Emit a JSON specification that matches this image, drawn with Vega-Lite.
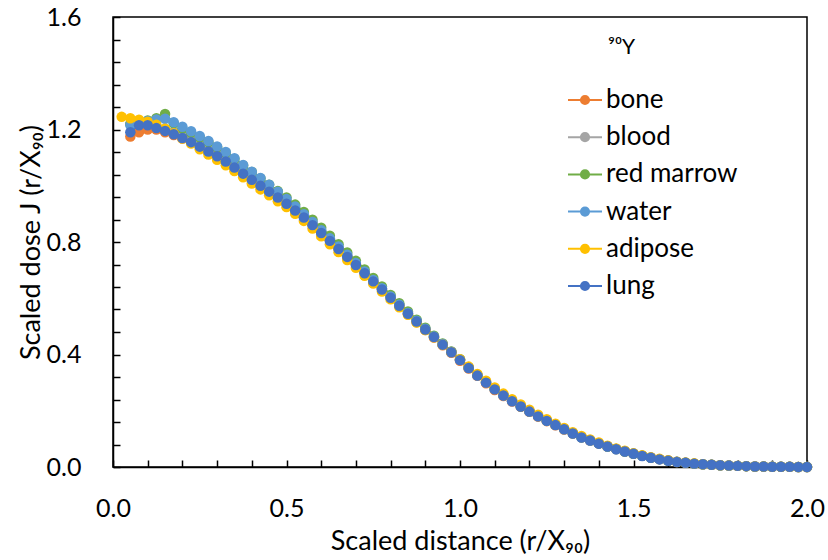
{
  "$schema": "https://vega.github.io/schema/vega-lite/v6.json",
  "width": 694,
  "height": 450,
  "autosize": {"type": "none"},
  "padding": {"left": 113, "top": 17, "right": 21, "bottom": 93},
  "background": "white",
  "config": {
    "font": "Lato",
    "view": {"stroke": "black", "strokeWidth": 1.5},
    "axis": {
      "grid": false,
      "domainColor": "black",
      "domainWidth": 1.5,
      "tickColor": "black",
      "tickWidth": 1.5,
      "tickSize": -7,
      "labelColor": "black",
      "titleColor": "black",
      "labelFontSize": 25,
      "titleFontSize": 27,
      "titleFontWeight": "normal",
      "labelFont": "Lato",
      "titleFont": "Lato"
    },
    "legend": {"labelFont": "Lato", "titleFont": "Lato"}
  },
  "data": {"values": [
    {"s":"bone","x":0.05,"y":1.175},{"s":"bone","x":0.075,"y":1.19},{"s":"bone","x":0.1,"y":1.2},{"s":"bone","x":0.125,"y":1.2},{"s":"bone","x":0.15,"y":1.19},{"s":"bone","x":0.175,"y":1.18},{"s":"bone","x":0.2,"y":1.168},{"s":"bone","x":0.225,"y":1.157},{"s":"bone","x":0.25,"y":1.141},{"s":"bone","x":0.275,"y":1.12},{"s":"bone","x":0.3,"y":1.107},{"s":"bone","x":0.325,"y":1.088},{"s":"bone","x":0.35,"y":1.063},{"s":"bone","x":0.375,"y":1.045},{"s":"bone","x":0.4,"y":1.02},{"s":"bone","x":0.425,"y":1.003},{"s":"bone","x":0.45,"y":0.98},{"s":"bone","x":0.475,"y":0.96},{"s":"bone","x":0.5,"y":0.936},{"s":"bone","x":0.525,"y":0.915},{"s":"bone","x":0.55,"y":0.89},{"s":"bone","x":0.575,"y":0.862},{"s":"bone","x":0.6,"y":0.83},{"s":"bone","x":0.625,"y":0.806},{"s":"bone","x":0.65,"y":0.777},{"s":"bone","x":0.675,"y":0.745},{"s":"bone","x":0.7,"y":0.72},{"s":"bone","x":0.725,"y":0.69},{"s":"bone","x":0.75,"y":0.658},{"s":"bone","x":0.775,"y":0.633},{"s":"bone","x":0.8,"y":0.604},{"s":"bone","x":0.825,"y":0.575},{"s":"bone","x":0.85,"y":0.543},{"s":"bone","x":0.875,"y":0.515},{"s":"bone","x":0.9,"y":0.487},{"s":"bone","x":0.925,"y":0.46},{"s":"bone","x":0.95,"y":0.433},{"s":"bone","x":0.975,"y":0.406},{"s":"bone","x":1.0,"y":0.378},{"s":"bone","x":1.025,"y":0.35},{"s":"bone","x":1.05,"y":0.324},{"s":"bone","x":1.075,"y":0.298},{"s":"bone","x":1.1,"y":0.274},{"s":"bone","x":1.125,"y":0.252},{"s":"bone","x":1.15,"y":0.233},{"s":"bone","x":1.175,"y":0.214},{"s":"bone","x":1.2,"y":0.196},{"s":"bone","x":1.225,"y":0.179},{"s":"bone","x":1.25,"y":0.163},{"s":"bone","x":1.275,"y":0.148},{"s":"bone","x":1.3,"y":0.133},{"s":"bone","x":1.325,"y":0.119},{"s":"bone","x":1.35,"y":0.106},{"s":"bone","x":1.375,"y":0.094},{"s":"bone","x":1.4,"y":0.083},{"s":"bone","x":1.425,"y":0.073},{"s":"bone","x":1.45,"y":0.064},{"s":"bone","x":1.475,"y":0.055},{"s":"bone","x":1.5,"y":0.047},{"s":"bone","x":1.525,"y":0.04},{"s":"bone","x":1.55,"y":0.033},{"s":"bone","x":1.575,"y":0.028},{"s":"bone","x":1.6,"y":0.023},{"s":"bone","x":1.625,"y":0.018},{"s":"bone","x":1.65,"y":0.015},{"s":"bone","x":1.675,"y":0.012},{"s":"bone","x":1.7,"y":0.01},{"s":"bone","x":1.725,"y":0.008},{"s":"bone","x":1.75,"y":0.006},{"s":"bone","x":1.775,"y":0.005},{"s":"bone","x":1.8,"y":0.004},{"s":"bone","x":1.825,"y":0.003},{"s":"bone","x":1.85,"y":0.002},{"s":"bone","x":1.875,"y":0.002},{"s":"bone","x":1.9,"y":0.001},{"s":"bone","x":1.925,"y":0.001},{"s":"bone","x":1.95,"y":0.001},{"s":"bone","x":1.975,"y":0},{"s":"bone","x":2.0,"y":0},
    {"s":"blood","x":0.05,"y":1.22},{"s":"blood","x":0.075,"y":1.222},{"s":"blood","x":0.1,"y":1.22},{"s":"blood","x":0.125,"y":1.212},{"s":"blood","x":0.15,"y":1.203},{"s":"blood","x":0.175,"y":1.192},{"s":"blood","x":0.2,"y":1.18},{"s":"blood","x":0.225,"y":1.165},{"s":"blood","x":0.25,"y":1.149},{"s":"blood","x":0.275,"y":1.132},{"s":"blood","x":0.3,"y":1.114},{"s":"blood","x":0.325,"y":1.095},{"s":"blood","x":0.35,"y":1.073},{"s":"blood","x":0.375,"y":1.051},{"s":"blood","x":0.4,"y":1.029},{"s":"blood","x":0.425,"y":1.008},{"s":"blood","x":0.45,"y":0.986},{"s":"blood","x":0.475,"y":0.965},{"s":"blood","x":0.5,"y":0.943},{"s":"blood","x":0.525,"y":0.919},{"s":"blood","x":0.55,"y":0.893},{"s":"blood","x":0.575,"y":0.866},{"s":"blood","x":0.6,"y":0.838},{"s":"blood","x":0.625,"y":0.81},{"s":"blood","x":0.65,"y":0.78},{"s":"blood","x":0.675,"y":0.752},{"s":"blood","x":0.7,"y":0.722},{"s":"blood","x":0.725,"y":0.693},{"s":"blood","x":0.75,"y":0.664},{"s":"blood","x":0.775,"y":0.634},{"s":"blood","x":0.8,"y":0.605},{"s":"blood","x":0.825,"y":0.576},{"s":"blood","x":0.85,"y":0.547},{"s":"blood","x":0.875,"y":0.519},{"s":"blood","x":0.9,"y":0.491},{"s":"blood","x":0.925,"y":0.463},{"s":"blood","x":0.95,"y":0.436},{"s":"blood","x":0.975,"y":0.409},{"s":"blood","x":1.0,"y":0.381},{"s":"blood","x":1.025,"y":0.353},{"s":"blood","x":1.05,"y":0.326},{"s":"blood","x":1.075,"y":0.301},{"s":"blood","x":1.1,"y":0.277},{"s":"blood","x":1.125,"y":0.255},{"s":"blood","x":1.15,"y":0.235},{"s":"blood","x":1.175,"y":0.216},{"s":"blood","x":1.2,"y":0.198},{"s":"blood","x":1.225,"y":0.181},{"s":"blood","x":1.25,"y":0.165},{"s":"blood","x":1.275,"y":0.15},{"s":"blood","x":1.3,"y":0.135},{"s":"blood","x":1.325,"y":0.12},{"s":"blood","x":1.35,"y":0.106},{"s":"blood","x":1.375,"y":0.095},{"s":"blood","x":1.4,"y":0.084},{"s":"blood","x":1.425,"y":0.074},{"s":"blood","x":1.45,"y":0.064},{"s":"blood","x":1.475,"y":0.056},{"s":"blood","x":1.5,"y":0.048},{"s":"blood","x":1.525,"y":0.04},{"s":"blood","x":1.55,"y":0.034},{"s":"blood","x":1.575,"y":0.028},{"s":"blood","x":1.6,"y":0.023},{"s":"blood","x":1.625,"y":0.019},{"s":"blood","x":1.65,"y":0.015},{"s":"blood","x":1.675,"y":0.012},{"s":"blood","x":1.7,"y":0.01},{"s":"blood","x":1.725,"y":0.008},{"s":"blood","x":1.75,"y":0.006},{"s":"blood","x":1.775,"y":0.005},{"s":"blood","x":1.8,"y":0.004},{"s":"blood","x":1.825,"y":0.003},{"s":"blood","x":1.85,"y":0.002},{"s":"blood","x":1.875,"y":0.002},{"s":"blood","x":1.9,"y":0.001},{"s":"blood","x":1.925,"y":0.001},{"s":"blood","x":1.95,"y":0.001},{"s":"blood","x":1.975,"y":0},{"s":"blood","x":2.0,"y":0},
    {"s":"red marrow","x":0.05,"y":1.22},{"s":"red marrow","x":0.075,"y":1.225},{"s":"red marrow","x":0.1,"y":1.232},{"s":"red marrow","x":0.125,"y":1.24},{"s":"red marrow","x":0.15,"y":1.255},{"s":"red marrow","x":0.175,"y":1.222},{"s":"red marrow","x":0.2,"y":1.203},{"s":"red marrow","x":0.225,"y":1.188},{"s":"red marrow","x":0.25,"y":1.172},{"s":"red marrow","x":0.275,"y":1.155},{"s":"red marrow","x":0.3,"y":1.137},{"s":"red marrow","x":0.325,"y":1.117},{"s":"red marrow","x":0.35,"y":1.095},{"s":"red marrow","x":0.375,"y":1.072},{"s":"red marrow","x":0.4,"y":1.049},{"s":"red marrow","x":0.425,"y":1.026},{"s":"red marrow","x":0.45,"y":1.004},{"s":"red marrow","x":0.475,"y":0.981},{"s":"red marrow","x":0.5,"y":0.958},{"s":"red marrow","x":0.525,"y":0.933},{"s":"red marrow","x":0.55,"y":0.907},{"s":"red marrow","x":0.575,"y":0.879},{"s":"red marrow","x":0.6,"y":0.851},{"s":"red marrow","x":0.625,"y":0.822},{"s":"red marrow","x":0.65,"y":0.792},{"s":"red marrow","x":0.675,"y":0.763},{"s":"red marrow","x":0.7,"y":0.733},{"s":"red marrow","x":0.725,"y":0.702},{"s":"red marrow","x":0.75,"y":0.672},{"s":"red marrow","x":0.775,"y":0.642},{"s":"red marrow","x":0.8,"y":0.612},{"s":"red marrow","x":0.825,"y":0.582},{"s":"red marrow","x":0.85,"y":0.553},{"s":"red marrow","x":0.875,"y":0.524},{"s":"red marrow","x":0.9,"y":0.495},{"s":"red marrow","x":0.925,"y":0.467},{"s":"red marrow","x":0.95,"y":0.439},{"s":"red marrow","x":0.975,"y":0.411},{"s":"red marrow","x":1.0,"y":0.383},{"s":"red marrow","x":1.025,"y":0.354},{"s":"red marrow","x":1.05,"y":0.327},{"s":"red marrow","x":1.075,"y":0.302},{"s":"red marrow","x":1.1,"y":0.278},{"s":"red marrow","x":1.125,"y":0.256},{"s":"red marrow","x":1.15,"y":0.236},{"s":"red marrow","x":1.175,"y":0.216},{"s":"red marrow","x":1.2,"y":0.198},{"s":"red marrow","x":1.225,"y":0.181},{"s":"red marrow","x":1.25,"y":0.165},{"s":"red marrow","x":1.275,"y":0.15},{"s":"red marrow","x":1.3,"y":0.135},{"s":"red marrow","x":1.325,"y":0.12},{"s":"red marrow","x":1.35,"y":0.106},{"s":"red marrow","x":1.375,"y":0.095},{"s":"red marrow","x":1.4,"y":0.084},{"s":"red marrow","x":1.425,"y":0.073},{"s":"red marrow","x":1.45,"y":0.064},{"s":"red marrow","x":1.475,"y":0.055},{"s":"red marrow","x":1.5,"y":0.047},{"s":"red marrow","x":1.525,"y":0.04},{"s":"red marrow","x":1.55,"y":0.033},{"s":"red marrow","x":1.575,"y":0.028},{"s":"red marrow","x":1.6,"y":0.022},{"s":"red marrow","x":1.625,"y":0.018},{"s":"red marrow","x":1.65,"y":0.015},{"s":"red marrow","x":1.675,"y":0.012},{"s":"red marrow","x":1.7,"y":0.01},{"s":"red marrow","x":1.725,"y":0.008},{"s":"red marrow","x":1.75,"y":0.006},{"s":"red marrow","x":1.775,"y":0.005},{"s":"red marrow","x":1.8,"y":0.004},{"s":"red marrow","x":1.825,"y":0.003},{"s":"red marrow","x":1.85,"y":0.002},{"s":"red marrow","x":1.875,"y":0.002},{"s":"red marrow","x":1.9,"y":0.001},{"s":"red marrow","x":1.925,"y":0.001},{"s":"red marrow","x":1.95,"y":0.001},{"s":"red marrow","x":1.975,"y":0},{"s":"red marrow","x":2.0,"y":0},
    {"s":"water","x":0.05,"y":1.215},{"s":"water","x":0.075,"y":1.225},{"s":"water","x":0.1,"y":1.23},{"s":"water","x":0.125,"y":1.236},{"s":"water","x":0.15,"y":1.238},{"s":"water","x":0.175,"y":1.226},{"s":"water","x":0.2,"y":1.21},{"s":"water","x":0.225,"y":1.194},{"s":"water","x":0.25,"y":1.177},{"s":"water","x":0.275,"y":1.159},{"s":"water","x":0.3,"y":1.14},{"s":"water","x":0.325,"y":1.12},{"s":"water","x":0.35,"y":1.098},{"s":"water","x":0.375,"y":1.074},{"s":"water","x":0.4,"y":1.05},{"s":"water","x":0.425,"y":1.028},{"s":"water","x":0.45,"y":1.004},{"s":"water","x":0.475,"y":0.979},{"s":"water","x":0.5,"y":0.953},{"s":"water","x":0.525,"y":0.926},{"s":"water","x":0.55,"y":0.899},{"s":"water","x":0.575,"y":0.871},{"s":"water","x":0.6,"y":0.842},{"s":"water","x":0.625,"y":0.813},{"s":"water","x":0.65,"y":0.784},{"s":"water","x":0.675,"y":0.755},{"s":"water","x":0.7,"y":0.725},{"s":"water","x":0.725,"y":0.695},{"s":"water","x":0.75,"y":0.665},{"s":"water","x":0.775,"y":0.636},{"s":"water","x":0.8,"y":0.606},{"s":"water","x":0.825,"y":0.577},{"s":"water","x":0.85,"y":0.548},{"s":"water","x":0.875,"y":0.52},{"s":"water","x":0.9,"y":0.492},{"s":"water","x":0.925,"y":0.464},{"s":"water","x":0.95,"y":0.437},{"s":"water","x":0.975,"y":0.41},{"s":"water","x":1.0,"y":0.382},{"s":"water","x":1.025,"y":0.354},{"s":"water","x":1.05,"y":0.327},{"s":"water","x":1.075,"y":0.302},{"s":"water","x":1.1,"y":0.278},{"s":"water","x":1.125,"y":0.256},{"s":"water","x":1.15,"y":0.236},{"s":"water","x":1.175,"y":0.217},{"s":"water","x":1.2,"y":0.199},{"s":"water","x":1.225,"y":0.182},{"s":"water","x":1.25,"y":0.166},{"s":"water","x":1.275,"y":0.151},{"s":"water","x":1.3,"y":0.136},{"s":"water","x":1.325,"y":0.121},{"s":"water","x":1.35,"y":0.107},{"s":"water","x":1.375,"y":0.095},{"s":"water","x":1.4,"y":0.084},{"s":"water","x":1.425,"y":0.074},{"s":"water","x":1.45,"y":0.064},{"s":"water","x":1.475,"y":0.056},{"s":"water","x":1.5,"y":0.048},{"s":"water","x":1.525,"y":0.04},{"s":"water","x":1.55,"y":0.034},{"s":"water","x":1.575,"y":0.028},{"s":"water","x":1.6,"y":0.023},{"s":"water","x":1.625,"y":0.019},{"s":"water","x":1.65,"y":0.015},{"s":"water","x":1.675,"y":0.012},{"s":"water","x":1.7,"y":0.01},{"s":"water","x":1.725,"y":0.008},{"s":"water","x":1.75,"y":0.006},{"s":"water","x":1.775,"y":0.005},{"s":"water","x":1.8,"y":0.004},{"s":"water","x":1.825,"y":0.003},{"s":"water","x":1.85,"y":0.002},{"s":"water","x":1.875,"y":0.002},{"s":"water","x":1.9,"y":0.001},{"s":"water","x":1.925,"y":0.001},{"s":"water","x":1.95,"y":0.001},{"s":"water","x":1.975,"y":0},{"s":"water","x":2.0,"y":0},
    {"s":"adipose","x":0.025,"y":1.245},{"s":"adipose","x":0.05,"y":1.24},{"s":"adipose","x":0.075,"y":1.235},{"s":"adipose","x":0.1,"y":1.228},{"s":"adipose","x":0.125,"y":1.217},{"s":"adipose","x":0.15,"y":1.203},{"s":"adipose","x":0.175,"y":1.187},{"s":"adipose","x":0.2,"y":1.168},{"s":"adipose","x":0.225,"y":1.15},{"s":"adipose","x":0.25,"y":1.13},{"s":"adipose","x":0.275,"y":1.111},{"s":"adipose","x":0.3,"y":1.092},{"s":"adipose","x":0.325,"y":1.073},{"s":"adipose","x":0.35,"y":1.052},{"s":"adipose","x":0.375,"y":1.03},{"s":"adipose","x":0.4,"y":1.008},{"s":"adipose","x":0.425,"y":0.987},{"s":"adipose","x":0.45,"y":0.966},{"s":"adipose","x":0.475,"y":0.945},{"s":"adipose","x":0.5,"y":0.924},{"s":"adipose","x":0.525,"y":0.9},{"s":"adipose","x":0.55,"y":0.875},{"s":"adipose","x":0.575,"y":0.848},{"s":"adipose","x":0.6,"y":0.82},{"s":"adipose","x":0.625,"y":0.792},{"s":"adipose","x":0.65,"y":0.764},{"s":"adipose","x":0.675,"y":0.736},{"s":"adipose","x":0.7,"y":0.708},{"s":"adipose","x":0.725,"y":0.68},{"s":"adipose","x":0.75,"y":0.652},{"s":"adipose","x":0.775,"y":0.624},{"s":"adipose","x":0.8,"y":0.596},{"s":"adipose","x":0.825,"y":0.568},{"s":"adipose","x":0.85,"y":0.541},{"s":"adipose","x":0.875,"y":0.514},{"s":"adipose","x":0.9,"y":0.487},{"s":"adipose","x":0.925,"y":0.461},{"s":"adipose","x":0.95,"y":0.435},{"s":"adipose","x":0.975,"y":0.409},{"s":"adipose","x":1.0,"y":0.383},{"s":"adipose","x":1.025,"y":0.357},{"s":"adipose","x":1.05,"y":0.331},{"s":"adipose","x":1.075,"y":0.307},{"s":"adipose","x":1.1,"y":0.283},{"s":"adipose","x":1.125,"y":0.261},{"s":"adipose","x":1.15,"y":0.241},{"s":"adipose","x":1.175,"y":0.222},{"s":"adipose","x":1.2,"y":0.204},{"s":"adipose","x":1.225,"y":0.186},{"s":"adipose","x":1.25,"y":0.17},{"s":"adipose","x":1.275,"y":0.154},{"s":"adipose","x":1.3,"y":0.139},{"s":"adipose","x":1.325,"y":0.124},{"s":"adipose","x":1.35,"y":0.11},{"s":"adipose","x":1.375,"y":0.098},{"s":"adipose","x":1.4,"y":0.087},{"s":"adipose","x":1.425,"y":0.076},{"s":"adipose","x":1.45,"y":0.066},{"s":"adipose","x":1.475,"y":0.058},{"s":"adipose","x":1.5,"y":0.049},{"s":"adipose","x":1.525,"y":0.042},{"s":"adipose","x":1.55,"y":0.035},{"s":"adipose","x":1.575,"y":0.029},{"s":"adipose","x":1.6,"y":0.024},{"s":"adipose","x":1.625,"y":0.019},{"s":"adipose","x":1.65,"y":0.016},{"s":"adipose","x":1.675,"y":0.013},{"s":"adipose","x":1.7,"y":0.01},{"s":"adipose","x":1.725,"y":0.008},{"s":"adipose","x":1.75,"y":0.006},{"s":"adipose","x":1.775,"y":0.005},{"s":"adipose","x":1.8,"y":0.004},{"s":"adipose","x":1.825,"y":0.003},{"s":"adipose","x":1.85,"y":0.002},{"s":"adipose","x":1.875,"y":0.002},{"s":"adipose","x":1.9,"y":0.001},{"s":"adipose","x":1.925,"y":0.001},{"s":"adipose","x":1.95,"y":0.001},{"s":"adipose","x":1.975,"y":0},{"s":"adipose","x":2.0,"y":0},
    {"s":"lung","x":0.05,"y":1.19},{"s":"lung","x":0.075,"y":1.215},{"s":"lung","x":0.1,"y":1.215},{"s":"lung","x":0.125,"y":1.205},{"s":"lung","x":0.15,"y":1.195},{"s":"lung","x":0.175,"y":1.183},{"s":"lung","x":0.2,"y":1.17},{"s":"lung","x":0.225,"y":1.155},{"s":"lung","x":0.25,"y":1.139},{"s":"lung","x":0.275,"y":1.122},{"s":"lung","x":0.3,"y":1.105},{"s":"lung","x":0.325,"y":1.086},{"s":"lung","x":0.35,"y":1.065},{"s":"lung","x":0.375,"y":1.043},{"s":"lung","x":0.4,"y":1.021},{"s":"lung","x":0.425,"y":1.0},{"s":"lung","x":0.45,"y":0.979},{"s":"lung","x":0.475,"y":0.958},{"s":"lung","x":0.5,"y":0.936},{"s":"lung","x":0.525,"y":0.912},{"s":"lung","x":0.55,"y":0.887},{"s":"lung","x":0.575,"y":0.86},{"s":"lung","x":0.6,"y":0.832},{"s":"lung","x":0.625,"y":0.804},{"s":"lung","x":0.65,"y":0.775},{"s":"lung","x":0.675,"y":0.747},{"s":"lung","x":0.7,"y":0.718},{"s":"lung","x":0.725,"y":0.689},{"s":"lung","x":0.75,"y":0.66},{"s":"lung","x":0.775,"y":0.631},{"s":"lung","x":0.8,"y":0.602},{"s":"lung","x":0.825,"y":0.573},{"s":"lung","x":0.85,"y":0.545},{"s":"lung","x":0.875,"y":0.517},{"s":"lung","x":0.9,"y":0.489},{"s":"lung","x":0.925,"y":0.462},{"s":"lung","x":0.95,"y":0.435},{"s":"lung","x":0.975,"y":0.408},{"s":"lung","x":1.0,"y":0.38},{"s":"lung","x":1.025,"y":0.352},{"s":"lung","x":1.05,"y":0.325},{"s":"lung","x":1.075,"y":0.3},{"s":"lung","x":1.1,"y":0.276},{"s":"lung","x":1.125,"y":0.254},{"s":"lung","x":1.15,"y":0.234},{"s":"lung","x":1.175,"y":0.215},{"s":"lung","x":1.2,"y":0.197},{"s":"lung","x":1.225,"y":0.18},{"s":"lung","x":1.25,"y":0.164},{"s":"lung","x":1.275,"y":0.149},{"s":"lung","x":1.3,"y":0.134},{"s":"lung","x":1.325,"y":0.119},{"s":"lung","x":1.35,"y":0.105},{"s":"lung","x":1.375,"y":0.094},{"s":"lung","x":1.4,"y":0.083},{"s":"lung","x":1.425,"y":0.073},{"s":"lung","x":1.45,"y":0.063},{"s":"lung","x":1.475,"y":0.055},{"s":"lung","x":1.5,"y":0.047},{"s":"lung","x":1.525,"y":0.039},{"s":"lung","x":1.55,"y":0.033},{"s":"lung","x":1.575,"y":0.027},{"s":"lung","x":1.6,"y":0.022},{"s":"lung","x":1.625,"y":0.018},{"s":"lung","x":1.65,"y":0.015},{"s":"lung","x":1.675,"y":0.012},{"s":"lung","x":1.7,"y":0.01},{"s":"lung","x":1.725,"y":0.008},{"s":"lung","x":1.75,"y":0.006},{"s":"lung","x":1.775,"y":0.005},{"s":"lung","x":1.8,"y":0.004},{"s":"lung","x":1.825,"y":0.003},{"s":"lung","x":1.85,"y":0.002},{"s":"lung","x":1.875,"y":0.002},{"s":"lung","x":1.9,"y":0.001},{"s":"lung","x":1.925,"y":0.001},{"s":"lung","x":1.95,"y":0.001},{"s":"lung","x":1.975,"y":0},{"s":"lung","x":2.0,"y":0}
  ]},
  "encoding": {
    "x": {
      "field": "x", "type": "quantitative",
      "scale": {"domain": [0, 2], "nice": false},
      "axis": {
        "title": "Scaled distance (r/X₉₀)",
        "values": [0,0.1,0.2,0.3,0.4,0.5,0.6,0.7,0.8,0.9,1.0,1.1,1.2,1.3,1.4,1.5,1.6,1.7,1.8,1.9,2.0],
        "labelExpr": "abs(datum.value*2 - round(datum.value*2)) < 0.000001 ? format(datum.value, '.1f') : ''",
        "labelPadding": 36,
        "titlePadding": 7,
        "labelFlush": false,
        "labelOverlap": false
      }
    },
    "y": {
      "field": "y", "type": "quantitative",
      "scale": {"domain": [0, 1.6], "nice": false},
      "axis": {
        "title": "Scaled dose J (r/X₉₀)",
        "values": [0,0.08,0.16,0.24,0.32,0.4,0.48,0.56,0.64,0.72,0.8,0.88,0.96,1.04,1.12,1.2,1.28,1.36,1.44,1.52,1.6],
        "labelExpr": "abs(datum.value/0.4 - round(datum.value/0.4)) < 0.000001 ? format(datum.value, '.1f') : ''",
        "labelPadding": 39,
        "titleX": -68,
        "titleY": 225,
        "titleBaseline": "bottom",
        "labelFlush": false,
        "labelOverlap": false
      }
    },
    "color": {
      "field": "s", "type": "nominal",
      "scale": {
        "domain": ["bone", "blood", "red marrow", "water", "adipose", "lung"],
        "range": ["#ED7D31", "#A5A5A5", "#70AD47", "#5B9BD5", "#FFC000", "#4472C4"]
      },
      "legend": {
        "title": "⁹⁰Y",
        "orient": "none",
        "legendX": 454,
        "legendY": 20,
        "padding": 0,
        "titleFontSize": 21,
        "titleFontWeight": "normal",
        "titleColor": "black",
        "titlePadding": 24,
        "labelFontSize": 26,
        "labelColor": "black",
        "labelOffset": 3,
        "rowPadding": 6.2,
        "symbolType": "M-1,0H1M-0.24,0A0.24,0.24,0,1,1,0.24,0A0.24,0.24,0,1,1,-0.24,0Z",
        "symbolSize": 1156,
        "symbolStrokeWidth": 2,
        "symbolOpacity": 1,
        "encode": {
          "title": {"update": {"dx": {"value": 41}}},
          "symbols": {"update": {"fill": {"scale": "color", "field": "value"}, "stroke": {"scale": "color", "field": "value"}, "opacity": {"value": 1}}}
        }
      }
    }
  },
  "layer": [
    {"mark": {"type": "line", "strokeWidth": 2.2}},
    {"mark": {"type": "point", "filled": true, "size": 110, "opacity": 1}}
  ]
}
